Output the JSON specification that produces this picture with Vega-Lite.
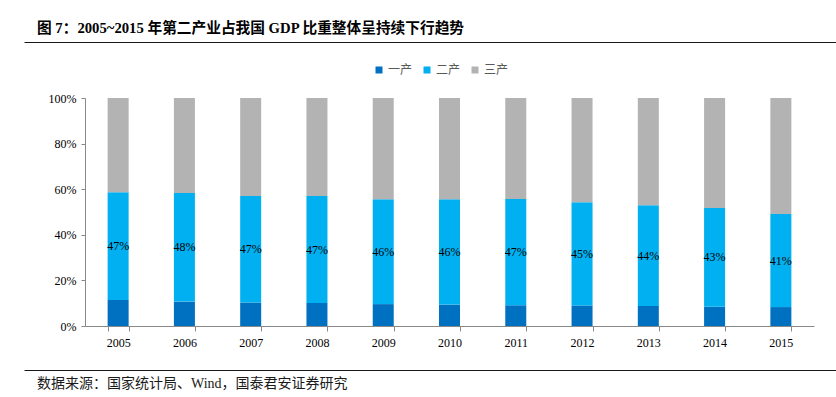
{
  "$schema": "https://vega.github.io/schema/vega-lite/v6.json",
  "padding": {"left": 24, "top": 21, "right": 0, "bottom": 0},
  "spacing": 22,
  "resolve": {"scale": {"color": "independent"}, "legend": {"color": "independent"}},
  "config": {"view": {"stroke": null}, "font": "Liberation Serif"},
  "datasets": {
    "gdp": [
      {"year": "2005", "sector": "一产", "o": 1, "v": 0.114},
      {"year": "2005", "sector": "二产", "o": 2, "v": 0.473},
      {"year": "2005", "sector": "三产", "o": 3, "v": 0.413},
      {"year": "2006", "sector": "一产", "o": 1, "v": 0.107},
      {"year": "2006", "sector": "二产", "o": 2, "v": 0.476},
      {"year": "2006", "sector": "三产", "o": 3, "v": 0.417},
      {"year": "2007", "sector": "一产", "o": 1, "v": 0.103},
      {"year": "2007", "sector": "二产", "o": 2, "v": 0.467},
      {"year": "2007", "sector": "三产", "o": 3, "v": 0.430},
      {"year": "2008", "sector": "一产", "o": 1, "v": 0.101},
      {"year": "2008", "sector": "二产", "o": 2, "v": 0.469},
      {"year": "2008", "sector": "三产", "o": 3, "v": 0.430},
      {"year": "2009", "sector": "一产", "o": 1, "v": 0.096},
      {"year": "2009", "sector": "二产", "o": 2, "v": 0.460},
      {"year": "2009", "sector": "三产", "o": 3, "v": 0.444},
      {"year": "2010", "sector": "一产", "o": 1, "v": 0.094},
      {"year": "2010", "sector": "二产", "o": 2, "v": 0.462},
      {"year": "2010", "sector": "三产", "o": 3, "v": 0.444},
      {"year": "2011", "sector": "一产", "o": 1, "v": 0.091},
      {"year": "2011", "sector": "二产", "o": 2, "v": 0.466},
      {"year": "2011", "sector": "三产", "o": 3, "v": 0.443},
      {"year": "2012", "sector": "一产", "o": 1, "v": 0.090},
      {"year": "2012", "sector": "二产", "o": 2, "v": 0.453},
      {"year": "2012", "sector": "三产", "o": 3, "v": 0.457},
      {"year": "2013", "sector": "一产", "o": 1, "v": 0.088},
      {"year": "2013", "sector": "二产", "o": 2, "v": 0.442},
      {"year": "2013", "sector": "三产", "o": 3, "v": 0.470},
      {"year": "2014", "sector": "一产", "o": 1, "v": 0.084},
      {"year": "2014", "sector": "二产", "o": 2, "v": 0.433},
      {"year": "2014", "sector": "三产", "o": 3, "v": 0.483},
      {"year": "2015", "sector": "一产", "o": 1, "v": 0.083},
      {"year": "2015", "sector": "二产", "o": 2, "v": 0.408},
      {"year": "2015", "sector": "三产", "o": 3, "v": 0.509}
    ]
  },
  "vconcat": [
    {
      "width": 812,
      "height": 1,
      "data": {"values": [{"p": 0}]},
      "title": {
        "text": "图 7：2005~2015 年第二产业占我国 GDP 比重整体呈持续下行趋势",
        "anchor": "start",
        "dx": 13,
        "offset": 5,
        "font": "Liberation Serif, Noto Sans CJK SC",
        "fontSize": 14.7,
        "fontWeight": "bold",
        "color": "#000000"
      },
      "mark": {"type": "point", "opacity": 0, "size": 0},
      "encoding": {
        "x": {
          "field": "p",
          "type": "quantitative",
          "scale": {"domain": [0, 1]},
          "axis": {"orient": "bottom", "position": -61, "domain": true, "domainColor": "#1a1a1a", "domainWidth": 1, "ticks": false, "labels": false, "grid": false, "title": null}
        }
      }
    },
    {
      "width": 729,
      "height": 228,
      "data": {"name": "gdp"},
      "encoding": {
        "x": {
          "field": "year",
          "type": "ordinal",
          "scale": {"paddingInner": 0.683, "paddingOuter": 0.3415},
          "axis": {"title": null, "labelAngle": 0, "tickBand": "extent", "tickSize": 5, "tickColor": "#898989", "domainColor": "#898989", "labelPadding": 6, "labelFontSize": 12, "labelColor": "#000000", "labelFont": "Liberation Serif", "maxExtent": 20}
        },
        "y": {
          "field": "v",
          "type": "quantitative",
          "stack": "normalize",
          "scale": {"domain": [0, 1]},
          "axis": {"title": null, "grid": false, "values": [0, 0.2, 0.4, 0.6, 0.8, 1], "format": ".0%", "tickSize": 4, "labelPadding": 5, "tickColor": "#898989", "domainColor": "#898989", "labelFontSize": 12, "labelColor": "#000000", "labelFont": "Liberation Serif", "minExtent": 61}
        },
        "order": {"field": "o", "type": "quantitative"}
      },
      "layer": [
        {
          "mark": {"type": "bar"},
          "encoding": {
            "color": {
              "field": "sector",
              "type": "nominal",
              "scale": {"domain": ["一产", "二产", "三产"], "range": ["#0070C0", "#00B0F0", "#B3B3B3"]},
              "legend": {"orient": "none", "legendX": 288, "legendY": -34, "direction": "horizontal", "title": null, "symbolType": "square", "symbolSize": 49, "symbolStrokeWidth": 0, "labelFont": "Noto Sans CJK SC", "labelFontSize": 12, "labelColor": "#595959", "columnPadding": 8, "labelOffset": 3}
            }
          }
        },
        {
          "mark": {"type": "text", "font": "Liberation Serif", "fontSize": 12, "color": "#000000"},
          "encoding": {
            "y": {"field": "v", "type": "quantitative", "stack": "normalize", "bandPosition": 0.5},
            "detail": {"field": "sector"},
            "text": {
              "condition": {"test": "datum.sector === '二产'", "field": "v", "type": "quantitative", "format": ".0%"},
              "value": ""
            }
          }
        }
      ]
    },
    {
      "width": 812,
      "height": 1,
      "data": {"values": [{"p": 0}]},
      "title": {
        "text": "数据来源：国家统计局、Wind，国泰君安证券研究",
        "orient": "bottom",
        "anchor": "start",
        "dx": 13,
        "offset": 6,
        "font": "Liberation Serif, Noto Sans CJK SC",
        "fontSize": 14,
        "fontWeight": "normal",
        "color": "#1a1a1a"
      },
      "mark": {"type": "point", "opacity": 0, "size": 0},
      "encoding": {
        "x": {
          "field": "p",
          "type": "quantitative",
          "scale": {"domain": [0, 1]},
          "axis": {"orient": "top", "position": -61, "domain": true, "domainColor": "#1a1a1a", "domainWidth": 1, "ticks": false, "labels": false, "grid": false, "title": null}
        }
      }
    }
  ]
}
